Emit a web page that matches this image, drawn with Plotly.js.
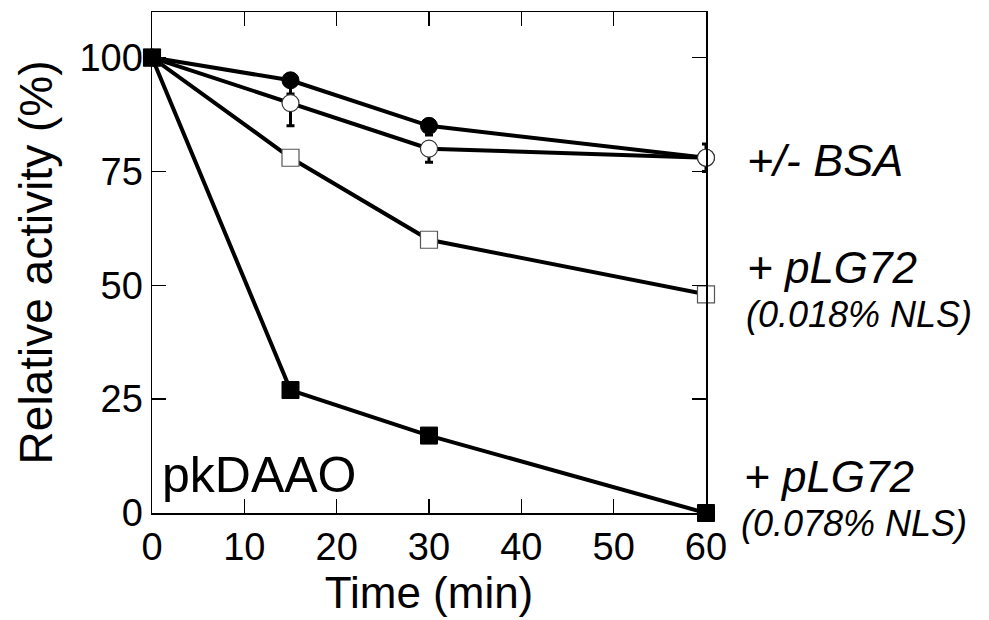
<!DOCTYPE html>
<html>
<head>
<meta charset="utf-8">
<script src="https://cdn.plot.ly/plotly-3.0.1.min.js"></script>
<style>html,body{margin:0;padding:0;background:#fff;}#chart{width:989px;height:620px;}</style>
</head>
<body>
<div id="chart"></div>
<script>
// Data
var timeMin = [0, 15, 30, 60];
var bsaFilled = [100, 95, 85, 78];
var bsaFilledErrMinus = [0, 3, 2, 0];
var bsaFilledErrPlus = [0, 0, 0, 0];
var bsaOpen = [100, 90, 80, 78];
var bsaOpenErrMinus = [0, 5, 3, 3];
var bsaOpenErrPlus = [0, 0, 0, 3];
var plg018 = [100, 78, 60, 48];
var plg078 = [100, 27, 17, 0];
var xTicks = [0, 10, 20, 30, 40, 50, 60];
var yTicks = [0, 25, 50, 75, 100];

var FONT = 'Liberation Sans, Arial, sans-serif';
var lineStyle = {color: '#000', width: 4};
var NB = '\u00A0';

var traces = [
  {x: timeMin, y: bsaFilled, mode: 'lines+markers', name: '- BSA', cliponaxis: false,
   line: lineStyle,
   marker: {symbol: 'circle', size: 17, color: '#000', line: {color: '#000', width: 1}},
   error_y: {type: 'data', symmetric: false, array: bsaFilledErrPlus, arrayminus: bsaFilledErrMinus,
             color: '#000', thickness: 3, width: 4}},
  {x: timeMin, y: bsaOpen, mode: 'lines+markers', name: '+ BSA', cliponaxis: false,
   line: lineStyle,
   marker: {symbol: 'circle', size: 17, color: '#fff', line: {color: '#333', width: 1.2}},
   error_y: {type: 'data', symmetric: false, array: bsaOpenErrPlus, arrayminus: bsaOpenErrMinus,
             color: '#000', thickness: 3, width: 4}},
  {x: timeMin, y: plg018, mode: 'lines+markers', name: '+ pLG72 (0.018% NLS)', cliponaxis: false,
   line: lineStyle,
   marker: {symbol: 'square', size: 17, color: '#fff', line: {color: '#555', width: 1.2}}},
  {x: timeMin, y: plg078, mode: 'lines+markers', name: '+ pLG72 (0.078% NLS)', cliponaxis: false,
   line: lineStyle,
   marker: {symbol: 'square', size: 17, color: '#000', line: {color: '#000', width: 1}}}
];

// plot area: left 152, right 706, top 12, bottom 513
var L = 152, R = 706, T = 12, B = 513, W = 989, H = 620;
function px(x) { return (x - L) / (R - L); }
function py(y) { return (B - y) / (B - T); }

function ann(text, x, y, size, yanchor) {
  return {text: text, xref: 'paper', yref: 'paper', x: px(x), y: py(y),
          xanchor: 'left', yanchor: yanchor || 'middle', showarrow: false,
          font: {family: FONT, size: size, color: '#000'}};
}

var layout = {
  width: W, height: H,
  margin: {l: L, r: W - R, t: T, b: H - B, pad: 0},
  paper_bgcolor: '#fff', plot_bgcolor: '#fff',
  showlegend: false,
  font: {family: FONT, color: '#000'},
  xaxis: {
    range: [0, 60], tickvals: xTicks, ticktext: xTicks.map(String),
    ticks: 'inside', ticklen: 14, tickwidth: 1.5, tickcolor: '#000',
    showline: true, linecolor: '#000', linewidth: 1.5, mirror: 'ticks',
    showgrid: false, zeroline: false,
    tickfont: {family: FONT, size: 38, color: '#000'},
    title: {text: 'Time (min)' + NB + NB + NB, font: {family: FONT, size: 44, color: '#000'}, standoff: 6}
  },
  yaxis: {
    range: [0, 110], tickvals: yTicks, ticktext: yTicks.map(String),
    ticks: 'inside', ticklen: 14, tickwidth: 1.5, tickcolor: '#000',
    showline: true, linecolor: '#000', linewidth: 1.5, mirror: 'ticks',
    showgrid: false, zeroline: false,
    tickfont: {family: FONT, size: 38, color: '#000'},
    title: {text: NB + NB + NB + NB + NB + NB + NB + NB + 'Relative activity (%)', font: {family: FONT, size: 46, color: '#000'}, standoff: 12}
  },
  annotations: [
    ann('pkDAAO', 160, 475, 50),
    ann('<i>+/- BSA</i>', 745, 160, 45),
    ann('<i>+ pLG72</i>', 745, 294, 44, 'bottom'),
    ann('<i>(0.018% NLS)</i>', 744, 292, 36, 'top'),
    ann('<i>+ pLG72</i>', 742, 503, 44, 'bottom'),
    ann('<i>(0.078% NLS)</i>', 739, 501, 36, 'top')
  ]
};

Plotly.newPlot('chart', traces, layout, {displayModeBar: false, staticPlot: true});
</script>
</body>
</html>
